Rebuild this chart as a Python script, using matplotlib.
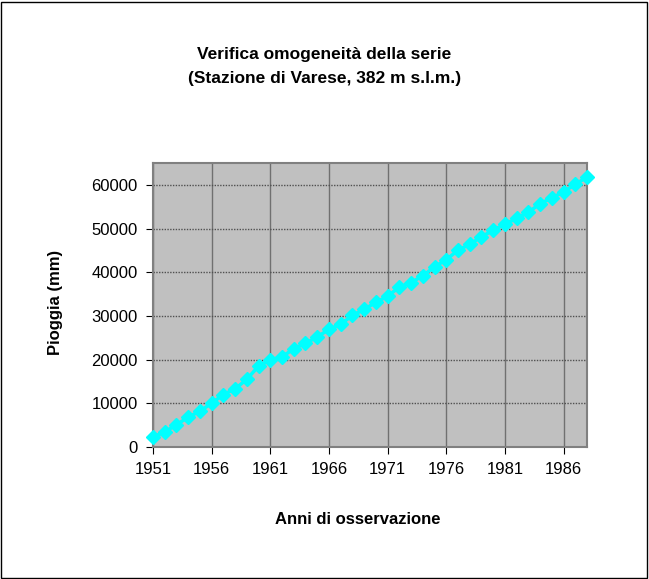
import numpy as np
import matplotlib
matplotlib.use("Agg")
import matplotlib.pyplot as plt
from matplotlib.patches import Rectangle

"""Dati: pioggia cumulata, Varese"""
anni = list(range(1951, 1989))
pioggia_cum = [2300, 3400, 5100, 6800, 8200, 10000, 12000, 13300, 15500, 18500,
               19900, 20600, 22500, 23700, 25200, 26900, 28100, 30100, 31500, 33100,
               34500, 36600, 37600, 39200, 41200, 42900, 45000, 46400, 48100, 49600,
               51000, 52300, 53700, 55700, 57000, 58400, 60100, 61800]
tick_anni = [1951, 1956, 1961, 1966, 1971, 1976, 1981, 1986]
tick_y = [0, 10000, 20000, 30000, 40000, 50000, 60000]

plt.rcParams['font.family'] = ['Liberation Sans', 'DejaVu Sans']

fig = plt.figure(figsize=(6.49, 5.79), dpi=100)
fig.patches.append(Rectangle((0.002, 0.002), 0.995, 0.995, transform=fig.transFigure,
                             fill=False, edgecolor='black', linewidth=1))

ax = fig.add_axes([0.2357, 0.228, 0.6688, 0.4905])
ax.set_facecolor('#C0C0C0')

ax.plot(anni, pioggia_cum, color='#00FFFF', linewidth=2.5, marker='D',
        markersize=7, markerfacecolor='#00FFFF', markeredgecolor='#00FFFF',
        clip_on=False, zorder=3)

ax.set_xlim(1951, 1988)
ax.set_ylim(0, 65000)
ax.set_xticks(tick_anni)
ax.set_yticks(tick_y)
ax.tick_params(labelsize=12, direction='out', length=5, color='black', pad=6)

ax.grid(axis='x', color='#707070', linewidth=1, linestyle='-')
ax.grid(axis='y', color='#505050', linewidth=1, linestyle=(0, (1, 1)))
ax.set_axisbelow(True)

for s in ['top', 'right', 'left', 'bottom']:
    ax.spines[s].set_color('#808080')
    ax.spines[s].set_linewidth(1.5)

# titoli degli assi posizionati come nel grafico originale
fig.text(0.552, 0.1036, "Anni di osservazione", ha='center', va='center',
         fontsize=12, fontweight='bold')
fig.text(0.085, 0.478, "Pioggia (mm)", ha='center', va='center', rotation=90,
         fontsize=12, fontweight='bold')

fig.text(0.5, 0.885, "Verifica omogeneità della serie\n(Stazione di Varese, 382 m s.l.m.)",
         ha='center', va='center', fontsize=12.5, fontweight='bold', linespacing=1.7)

fig.savefig("out.png", dpi=100)
